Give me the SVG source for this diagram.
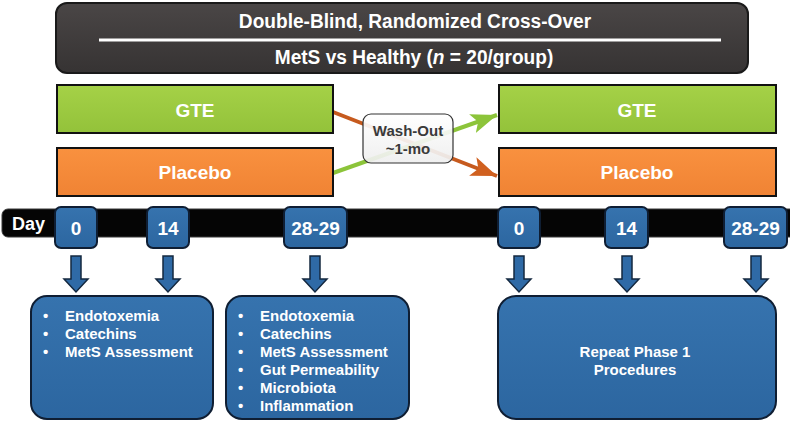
<svg xmlns="http://www.w3.org/2000/svg" width="790" height="426" viewBox="0 0 790 426">
<defs>
<style>
.hdr{font-family:"Liberation Sans",Arial,sans-serif;font-weight:bold;fill:#fff;text-anchor:middle}
.arm{font-family:"Liberation Sans",Arial,sans-serif;font-weight:bold;font-size:19px;fill:#fff;text-anchor:middle}
.day{font-family:"Liberation Sans",Arial,sans-serif;font-weight:bold;font-size:19px;fill:#fff;text-anchor:middle}
.bl{font-family:"Liberation Sans",Arial,sans-serif;font-weight:bold;font-size:15px;fill:#fff}
.wo{font-family:"Liberation Sans",Arial,sans-serif;font-weight:bold;font-size:15px;fill:#3a3a3a;text-anchor:middle}
.box{stroke:#111;stroke-width:2}
.blue{fill:url(#gBlue);stroke:#0f1e33;stroke-width:2}
.darr{fill:#2f6aa6;stroke:#14283f;stroke-width:1.5}
</style>
<linearGradient id="gGreen" x1="0" y1="0" x2="0" y2="1"><stop offset="0" stop-color="#a5d147"/><stop offset="1" stop-color="#93c23a"/></linearGradient>
<linearGradient id="gOrange" x1="0" y1="0" x2="0" y2="1"><stop offset="0" stop-color="#f9913f"/><stop offset="1" stop-color="#f08334"/></linearGradient>
<linearGradient id="gBlue" x1="0" y1="0" x2="0" y2="1"><stop offset="0" stop-color="#3673ae"/><stop offset="1" stop-color="#2c66a0"/></linearGradient>
<linearGradient id="gWash" x1="0" y1="0" x2="0" y2="1"><stop offset="0" stop-color="#ffffff"/><stop offset="1" stop-color="#eeeeee"/></linearGradient>
<linearGradient id="gHdr" x1="0" y1="0" x2="0" y2="1"><stop offset="0" stop-color="#4a4646"/><stop offset="1" stop-color="#363333"/></linearGradient>
<marker id="mOr" markerUnits="userSpaceOnUse" markerWidth="28" markerHeight="22" refX="26" refY="11" orient="auto"><path d="M0,1 L26,11 L0,21 L6,11 Z" fill="#d0601f"/></marker>
<marker id="mGr" markerUnits="userSpaceOnUse" markerWidth="28" markerHeight="22" refX="26" refY="11" orient="auto"><path d="M0,1 L26,11 L0,21 L6,11 Z" fill="#8cc43a"/></marker>
</defs>
<rect width="790" height="426" fill="#fff"/>

<g id="header">
<rect x="56" y="3" width="692" height="70" rx="11" fill="url(#gHdr)" stroke="#1a1a1a" stroke-width="2"/>
<line x1="99" y1="40" x2="721" y2="40" stroke="#fff" stroke-width="3"/>
<text class="hdr" font-size="21" transform="translate(415,28) scale(0.91,1)">Double-Blind, Randomized Cross-Over</text>
<text class="hdr" font-size="21" transform="translate(414,64) scale(0.91,1)">MetS vs Healthy (<tspan font-style="italic">n</tspan> = 20/group)</text>
</g>

<g id="connectors">
<line x1="333" y1="112" x2="497" y2="176" stroke="#c65a1e" stroke-width="4" marker-end="url(#mOr)"/>
<line x1="333" y1="173" x2="497" y2="115" stroke="#8cc43a" stroke-width="4" marker-end="url(#mGr)"/>
<g>
<path class="darr" d="M71,256 H81 V279 H88 L76,292 L64,279 H71 Z"/>
<path class="darr" d="M163,256 H173 V279 H180 L168,292 L156,279 H163 Z"/>
<path class="darr" d="M310,256 H320 V279 H327 L315,292 L303,279 H310 Z"/>
<path class="darr" d="M514,256 H524 V279 H531 L519,292 L507,279 H514 Z"/>
<path class="darr" d="M622,256 H632 V279 H639 L627,292 L615,279 H622 Z"/>
<path class="darr" d="M751,256 H761 V279 H768 L756,292 L744,279 H751 Z"/>
</g>
</g>

<g id="gte1"><rect class="box" x="57" y="85" width="276" height="48" fill="url(#gGreen)"/><text class="arm" x="195" y="117">GTE</text></g>
<g id="placebo1"><rect class="box" x="57" y="148" width="276" height="48" fill="url(#gOrange)"/><text class="arm" x="195" y="179">Placebo</text></g>
<g id="gte2"><rect class="box" x="499" y="85" width="277" height="48" fill="url(#gGreen)"/><text class="arm" x="637" y="117">GTE</text></g>
<g id="placebo2"><rect class="box" x="499" y="148" width="277" height="48" fill="url(#gOrange)"/><text class="arm" x="637" y="179">Placebo</text></g>

<g id="washout">
<rect x="363" y="114" width="90" height="49" rx="8" fill="url(#gWash)" fill-opacity="0.92" stroke="#333" stroke-width="1.2"/>
<text class="wo" x="408" y="136">Wash-Out</text>
<text class="wo" x="408" y="154">~1-mo</text>
</g>

<g id="daybar">
<rect x="2" y="209" width="800" height="28" rx="6" fill="#050505" stroke="#3a3a3a" stroke-width="1"/>
<text x="12" y="230" font-family="Liberation Sans, Arial, sans-serif" font-weight="bold" font-size="18" fill="#fff">Day</text>
</g>

<g id="d0a"><rect class="blue" x="55" y="207" width="42" height="41" rx="6"/><text class="day" x="76" y="235">0</text></g>
<g id="d14a"><rect class="blue" x="147" y="207" width="42" height="41" rx="6"/><text class="day" x="168" y="235">14</text></g>
<g id="d28a"><rect class="blue" x="284" y="207" width="63" height="41" rx="6"/><text class="day" x="315.5" y="235">28-29</text></g>
<g id="d0b"><rect class="blue" x="498" y="207" width="42" height="41" rx="6"/><text class="day" x="519" y="235">0</text></g>
<g id="d14b"><rect class="blue" x="605" y="207" width="43" height="41" rx="6"/><text class="day" x="626.5" y="235">14</text></g>
<g id="d28b"><rect class="blue" x="724" y="207" width="63" height="41" rx="6"/><text class="day" x="755.5" y="235">28-29</text></g>

<g id="box1">
<rect class="blue" x="31" y="296" width="182" height="123" rx="16"/>
<text class="bl" x="43" y="321">•</text><text class="bl" x="65" y="321">Endotoxemia</text>
<text class="bl" x="43" y="339">•</text><text class="bl" x="65" y="339">Catechins</text>
<text class="bl" x="43" y="357">•</text><text class="bl" x="65" y="357">MetS Assessment</text>
</g>

<g id="box2">
<rect class="blue" x="226" y="296" width="183" height="123" rx="16"/>
<text class="bl" x="238" y="321">•</text><text class="bl" x="260" y="321">Endotoxemia</text>
<text class="bl" x="238" y="339">•</text><text class="bl" x="260" y="339">Catechins</text>
<text class="bl" x="238" y="357">•</text><text class="bl" x="260" y="357">MetS Assessment</text>
<text class="bl" x="238" y="375">•</text><text class="bl" x="260" y="375">Gut Permeability</text>
<text class="bl" x="238" y="393">•</text><text class="bl" x="260" y="393">Microbiota</text>
<text class="bl" x="238" y="411">•</text><text class="bl" x="260" y="411">Inflammation</text>
</g>

<g id="box3">
<rect class="blue" x="498" y="296" width="278" height="123" rx="18"/>
<text class="bl" x="635" y="357" text-anchor="middle" font-size="16">Repeat Phase 1</text>
<text class="bl" x="635" y="375" text-anchor="middle" font-size="16">Procedures</text>
</g>
</svg>
